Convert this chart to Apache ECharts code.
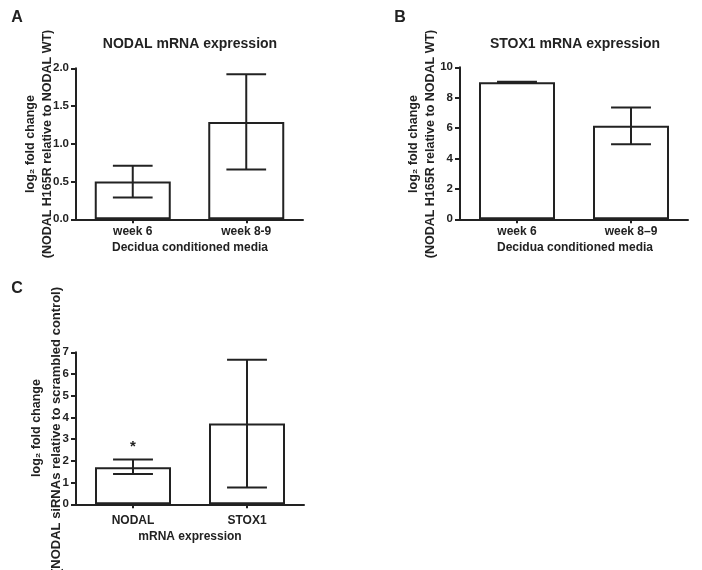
<!DOCTYPE html>
<html>
<head>
<meta charset="utf-8">
<script src="https://cdn.jsdelivr.net/npm/echarts@6/dist/echarts.min.js"></script>
<style>
html,body{margin:0;padding:0;background:#fff;}
#chart{width:702px;height:570px;}
</style>
</head>
<body>
<div id="chart"></div>
<script>
// ---- Data ----
const panelACategories = ['week 6', 'week 8-9'];
const panelAMeans = [0.50, 1.29];
const panelALow = [0.29, 0.66];
const panelAHigh = [0.71, 1.92];
const panelATicks = [0, 2, 0.5];

const panelBCategories = ['week 6', 'week 8\u20139'];
const panelBMeans = [9.02, 6.15];
const panelBLow = [8.99, 4.94];
const panelBHigh = [9.05, 7.36];
const panelBTicks = [0, 10, 2];

const panelCCategories = ['NODAL', 'STOX1'];
const panelCMeans = [1.71, 3.72];
const panelCLow = [1.39, 0.77];
const panelCHigh = [2.06, 6.66];
const panelCSignif = ['*', ''];
const panelCTicks = [0, 7, 1];

// ---- Styles ----
const FONT = '"Liberation Sans", Arial, "DejaVu Sans", sans-serif';
const INK = '#222';

const chart = echarts.init(document.getElementById('chart'), null, {renderer: 'canvas'});

function errData(low, high, sig) {
  return low.map((l, i) => [i, l, high[i], sig ? sig[i] : '']);
}

function errRender(params, api) {
  const x = api.value(0);
  const pLo = api.coord([x, api.value(1)]);
  const pHi = api.coord([x, api.value(2)]);
  const half = api.size([1, 0])[0] * 0.175;
  const style = {stroke: INK, lineWidth: 2, fill: null};
  const children = [
    {type: 'line', shape: {x1: pLo[0], y1: pLo[1], x2: pHi[0], y2: pHi[1]}, style: style},
    {type: 'line', shape: {x1: pLo[0] - half, y1: pLo[1], x2: pLo[0] + half, y2: pLo[1]}, style: style},
    {type: 'line', shape: {x1: pHi[0] - half, y1: pHi[1], x2: pHi[0] + half, y2: pHi[1]}, style: style}
  ];
  const s = api.value(3);
  if (s) {
    children.push({type: 'text', x: pHi[0], y: pHi[1] - 5,
      style: {text: s, font: 'bold 15px ' + FONT, fill: INK, align: 'center', verticalAlign: 'bottom'}});
  }
  return {type: 'group', children: children};
}

function xAx(gi, cats, margin) {
  return {
    type: 'category', gridIndex: gi, data: cats,
    axisLine: {lineStyle: {color: INK, width: 2}},
    axisTick: {show: true, alignWithLabel: true, length: 4, lineStyle: {color: INK, width: 2}},
    axisLabel: {color: INK, fontFamily: FONT, fontWeight: 'bold', fontSize: 12, margin: margin}
  };
}
function yAx(gi, ticks, dec) {
  return {
    type: 'value', gridIndex: gi, min: ticks[0], max: ticks[1], interval: ticks[2],
    splitLine: {show: false},
    axisLine: {show: true, lineStyle: {color: INK, width: 2}},
    axisTick: {show: true, length: 5, lineStyle: {color: INK, width: 2}},
    axisLabel: {color: INK, fontFamily: FONT, fontWeight: 'bold', fontSize: 11.5, margin: 7,
      formatter: v => dec ? v.toFixed(1) : String(v)}
  };
}
function barSeries(gi, means) {
  return {
    type: 'bar', xAxisIndex: gi, yAxisIndex: gi, data: means, barWidth: 76,
    itemStyle: {color: '#fff', borderColor: INK, borderWidth: 2}, silent: true, animation: false
  };
}
function errSeries(gi, low, high, sig) {
  return {
    type: 'custom', xAxisIndex: gi, yAxisIndex: gi, data: errData(low, high, sig),
    renderItem: errRender, silent: true, animation: false, z: 5
  };
}
function txt(x, y, text, size, rot) {
  return {type: 'text', x: x, y: y, rotation: rot ? Math.PI / 2 : 0,
    style: {text: text, font: 'bold ' + size + 'px ' + FONT, fill: INK, align: 'center', verticalAlign: 'middle'}};
}

const option = {
  backgroundColor: '#fff',
  animation: false,
  grid: [
    {left: 76, top: 68.3, width: 227, height: 151},
    {left: 460, top: 67.3, width: 228, height: 152},
    {left: 76, top: 352.3, width: 228, height: 152}
  ],
  xAxis: [xAx(0, panelACategories, 6), xAx(1, panelBCategories, 6), xAx(2, panelCCategories, 10)],
  yAxis: [yAx(0, panelATicks, true), yAx(1, panelBTicks, false), yAx(2, panelCTicks, false)],
  series: [
    barSeries(0, panelAMeans), errSeries(0, panelALow, panelAHigh),
    barSeries(1, panelBMeans), errSeries(1, panelBLow, panelBHigh),
    barSeries(2, panelCMeans), errSeries(2, panelCLow, panelCHigh, panelCSignif)
  ],
  graphic: [
    txt(17, 18, 'A', 16), txt(400, 18, 'B', 16), txt(17, 289, 'C', 16),
    txt(190, 44, 'NODAL mRNA expression', 14),
    txt(575, 44, 'STOX1 mRNA expression', 14),
    txt(190, 248, 'Decidua conditioned media', 12),
    txt(575, 248, 'Decidua conditioned media', 12),
    txt(190, 537, 'mRNA expression', 12),
    txt(31, 144, 'log\u2082 fold change', 12.5, true),
    txt(48, 144, '(NODAL H165R relative to NODAL WT)', 12.5, true),
    txt(414, 144, 'log\u2082 fold change', 12.5, true),
    txt(431, 144, '(NODAL H165R relative to NODAL WT)', 12.5, true),
    txt(37, 428, 'log\u2082 fold change', 12.5, true),
    txt(56, 430, '(NODAL siRNAs relative to scrambled control)', 13, true)
  ]
};
chart.setOption(option);
</script>
</body>
</html>
